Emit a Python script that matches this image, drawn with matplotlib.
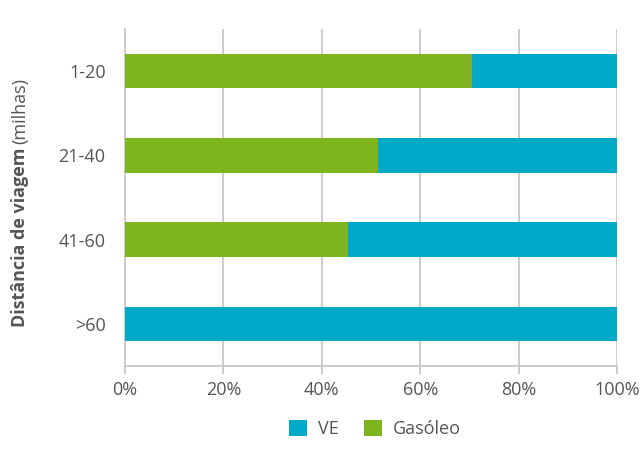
import matplotlib.pyplot as plt
import numpy as np

distances = ['1-20', '21-40', '41-60', '>60']
gasoleo = [70.6, 51.4, 45.3, 0.0]
ve = [100 - g for g in gasoleo]

ve_color = '#00A9C7'
gas_color = '#7DB41F'
grid_color = '#c8c8c8'
text_color = '#555555'

plt.rcParams['font.family'] = ['Open Sans', 'DejaVu Sans']

fig = plt.figure(figsize=(6.44, 4.53), dpi=100)
ax = fig.add_axes([125 / 644, 87 / 453, 492 / 644, 337 / 453])

y = np.arange(len(distances))
h_gas = ax.barh(y, gasoleo, height=0.41, color=gas_color, zorder=3, label='Gasóleo')
h_ve = ax.barh(y, ve, left=gasoleo, height=0.41, color=ve_color, zorder=3, label='VE')

ax.set_xlim(0, 100)
ax.set_ylim(len(distances) - 0.5, -0.5)
ax.set_yticks(y)
ax.set_yticklabels(distances)
ax.set_xticks(np.arange(0, 101, 20))
ax.set_xticklabels([f'{v}%' for v in range(0, 101, 20)])

ax.grid(axis='x', color=grid_color, linewidth=1.3, zorder=0)
for s in ['top', 'right']:
    ax.spines[s].set_visible(False)
for s in ['left', 'bottom']:
    ax.spines[s].set_color(grid_color)
    ax.spines[s].set_linewidth(1.3)
ax.tick_params(axis='x', colors=grid_color, length=6, width=1.3, labelcolor=text_color,
               labelsize=13, pad=5)
ax.tick_params(axis='y', length=0, labelcolor=text_color, labelsize=13, pad=14)

# y label: bold part + normal part
t1 = fig.text(20 / 644, (453 - 327) / 453, 'Distância de viagem', rotation=90,
              ha='center', va='bottom', fontsize=13, fontweight='bold', color=text_color)
fig.canvas.draw()
bb = t1.get_window_extent()
fig.text(20 / 644, (bb.y1 + 4) / 453, '(milhas)', rotation=90,
         ha='center', va='bottom', fontsize=13, color=text_color)

fig.legend(handles=[h_ve, h_gas], labels=['VE', 'Gasóleo'], loc='center',
           bbox_to_anchor=(375 / 644, 24 / 453), ncol=2, frameon=False,
           fontsize=13, labelcolor=text_color, handlelength=1.0, handleheight=1.0,
           handletextpad=0.6, columnspacing=1.4)

fig.savefig('out.png', dpi=100)
